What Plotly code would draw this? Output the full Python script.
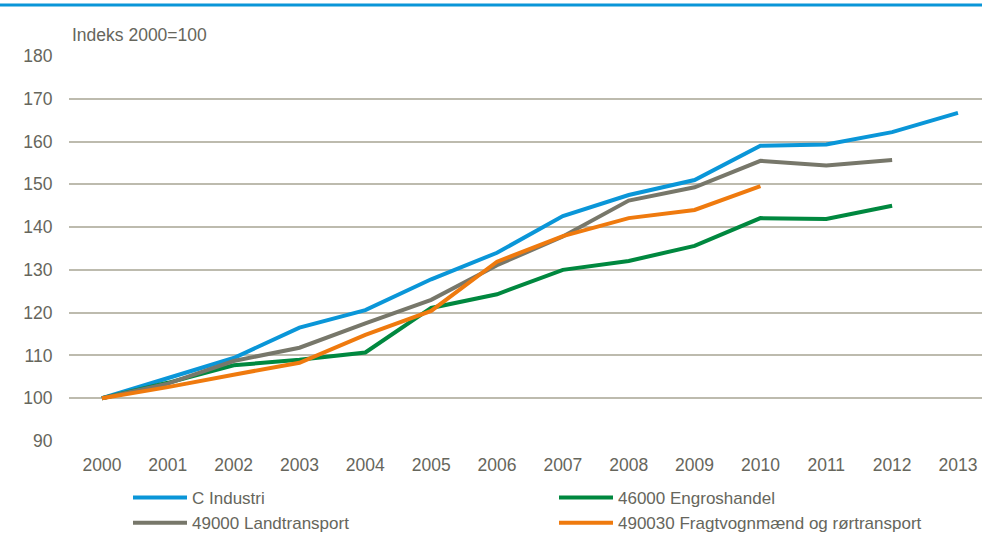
import plotly.graph_objects as go

years = ["2000", "2001", "2002", "2003", "2004", "2005", "2006",
         "2007", "2008", "2009", "2010", "2011", "2012", "2013"]

industri = [100, 104.8, 109.4, 116.5, 120.6, 127.8, 134.0,
            142.6, 147.5, 151.0, 159.0, 159.3, 162.2, 166.7]
engros = [100, 103.6, 107.7, 109.0, 110.7, 121.1, 124.3,
          130.0, 132.1, 135.6, 142.1, 141.9, 145.0, None]
landtransport = [100, 103.4, 108.7, 111.8, 117.5, 123.0, 131.1,
                 137.8, 146.2, 149.3, 155.5, 154.4, 155.7, None]
fragt = [100, 102.6, 105.5, 108.3, 114.8, 120.4, 131.9,
         137.9, 142.1, 144.0, 149.6, None, None, None]

names = ["C Industri", "46000 Engroshandel", "49000 Landtransport",
         "490030 Fragtvognmænd og rørtransport"]
series = [industri, engros, landtransport, fragt]
colors = ["#0A96D8", "#00883F", "#77776A", "#EF7A0E"]

FONT = "Liberation Sans, Arial, sans-serif"
FS = 17.5
TXT = "#66665C"

fig = go.Figure()
for nm, ys, c in zip(names, series, colors):
    fig.add_trace(go.Scatter(
        x=list(range(len(years))), y=ys, name=nm, mode="lines",
        line=dict(color=c, width=4), connectgaps=False))

W, H = 982, 535
L, R, T, B = 69, 0, 56, 94
pw = W - L - R
ph = H - T - B

fig.update_layout(
    width=W, height=H,
    margin=dict(l=L, r=R, t=T, b=B, autoexpand=False),
    paper_bgcolor="white", plot_bgcolor="white",
    font=dict(family=FONT, size=FS, color=TXT),
    showlegend=True,
    legend=dict(orientation="h", x=(128 - L) / pw, xanchor="left",
                y=-(480 - (T + ph)) / ph, yanchor="top",
                entrywidth=357, entrywidthmode="pixels",
                font=dict(family=FONT, size=17, color=TXT),
                tracegroupgap=0, itemwidth=54,
                bgcolor="rgba(0,0,0,0)"),
    xaxis=dict(
        tickmode="array", tickvals=list(range(len(years))), ticktext=years,
        range=[-0.5, -0.5 + pw / 65.85],
        showgrid=False, zeroline=False, showline=False,
        ticks="outside", ticklen=8, tickcolor="rgba(0,0,0,0)",
        tickfont=dict(family=FONT, size=FS, color=TXT)),
    yaxis=dict(
        range=[90, 180], dtick=10, tick0=90,
        showgrid=True, gridcolor="#BDBBAE", gridwidth=1.5,
        zeroline=False, showline=False,
        ticks="outside", ticklen=12, tickcolor="rgba(0,0,0,0)",
        tickfont=dict(family=FONT, size=FS, color=TXT)),
    annotations=[dict(
        text="Indeks 2000=100", xref="paper", yref="paper",
        x=(70 - L) / pw, y=(T + ph - 35) / ph, xanchor="left", yanchor="middle",
        showarrow=False, font=dict(family=FONT, size=FS, color=TXT))],
    shapes=[dict(
        type="line", xref="paper", yref="paper",
        x0=-L / pw, x1=1.0, y0=(T + ph - 5) / ph, y1=(T + ph - 5) / ph,
        line=dict(color="#0A96D8", width=3))],
)

fig.write_html("out.html",
               config={"displayModeBar": False},
               post_script="document.body.style.margin='0';"
                           "document.body.style.padding='0';")
